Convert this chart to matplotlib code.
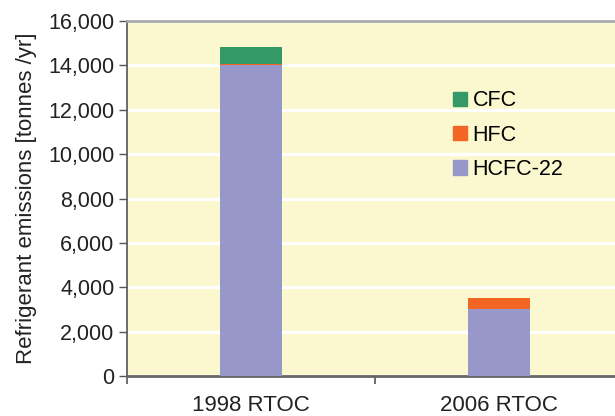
import matplotlib
matplotlib.use("Agg")
from matplotlib import pyplot as plt
from matplotlib.patches import Patch
import numpy as np

plt.rcParams['font.family'] = ['Liberation Sans', 'DejaVu Sans']

# data
categories = ['1998 RTOC', '2006 RTOC']
hcfc22 = [14000, 3020]
hfc = [40, 500]
cfc = [790, 0]
yticks = np.arange(0, 16001, 2000)

c_hcfc = '#9897c9'
c_hfc = '#f26522'
c_cfc = '#339966'
bg = '#fbf8d0'

fig = plt.figure(figsize=(6.15, 4.16), dpi=100)
ax = fig.add_axes([127 / 615, 40 / 416, 488 / 615, 355 / 416])
ax.set_facecolor(bg)

x = np.arange(len(categories))
w = 0.25
ax.bar(x, hcfc22, w, color=c_hcfc, zorder=3)
ax.bar(x, hfc, w, bottom=hcfc22, color=c_hfc, zorder=3)
bottom2 = np.array(hcfc22) + np.array(hfc)
ax.bar(x, cfc, w, bottom=bottom2, color=c_cfc, zorder=3)

ax.set_xlim(-0.5, 1.468)
ax.set_ylim(0, 16000)

ax.set_yticks(yticks)
ax.set_yticklabels(['{:,}'.format(v) for v in yticks])
ax.yaxis.grid(True, color='white', linewidth=2.3, zorder=1)
ax.set_axisbelow(True)

ax.set_xticks(x)
ax.set_xticklabels(categories)
ax.set_xticks([-0.5, 0.5], minor=True)
ax.tick_params(axis='x', which='major', length=0, pad=14, labelsize=16, colors='#222222')
ax.tick_params(axis='x', which='minor', length=6, width=1.2, color='#555555')
ax.tick_params(axis='y', length=6, width=1.0, pad=3, labelsize=15.5, color='#555555', labelcolor='#222222')

ax.spines['right'].set_visible(False)
ax.spines['top'].set_color('#aaaaaa')
ax.spines['top'].set_linewidth(2.0)
ax.spines['left'].set_color('#555555')
ax.spines['left'].set_linewidth(1.2)
ax.spines['bottom'].set_color('#666666')
ax.spines['bottom'].set_linewidth(2.0)

ax.set_ylabel('Refrigerant emissions [tonnes /yr]', fontsize=16, color='#222222', labelpad=8)

handles = [Patch(color=c_cfc, label='CFC'),
           Patch(color=c_hfc, label='HFC'),
           Patch(color=c_hcfc, label='HCFC-22')]
ax.legend(handles=handles, frameon=False, fontsize=15.5,
          handlelength=0.65, handleheight=0.65, handletextpad=0.25,
          labelspacing=0.62, loc='upper left',
          bbox_to_anchor=(434 / 615, 345 / 416), bbox_transform=fig.transFigure)

fig.savefig('out.png', dpi=100, facecolor='white')
